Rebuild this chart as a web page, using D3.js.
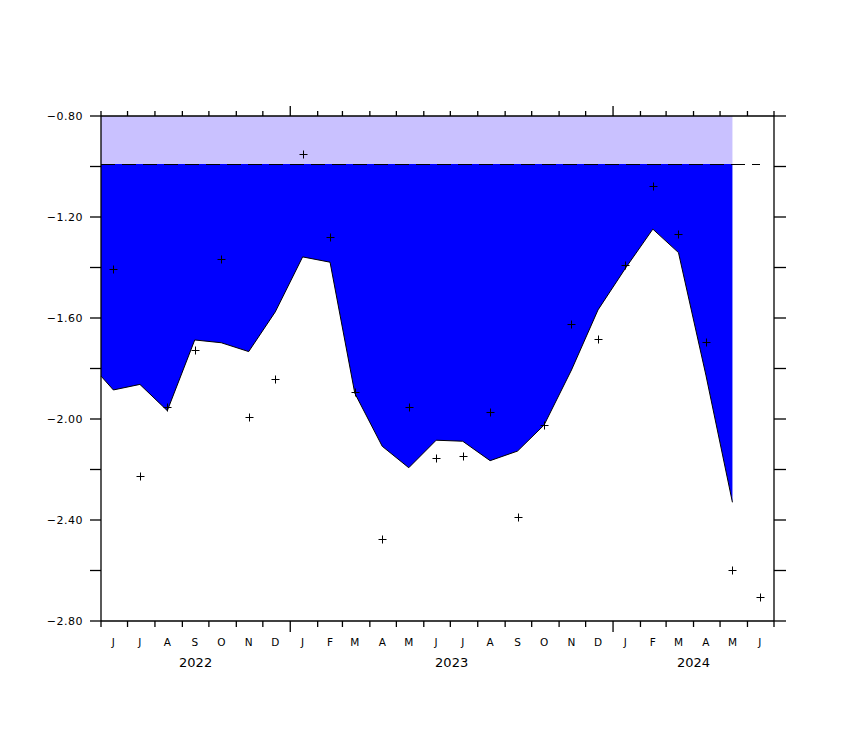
<!DOCTYPE html>
<html>
<head>
<meta charset="utf-8">
<script src="https://cdn.jsdelivr.net/npm/d3@7"></script>
<style>
  html, body { margin: 0; padding: 0; background: #fff; }
  svg { display: block; }
  text { font-family: "DejaVu Sans", sans-serif; fill: #000; }
</style>
</head>
<body>
<svg id="chart" width="859" height="740"></svg>
<script>
// ---- data ----
const lineDates = ["2022-06-01","2022-06-15","2022-07-15","2022-08-15","2022-09-15","2022-10-15","2022-11-15","2022-12-15",
  "2023-01-15","2023-02-15","2023-03-15","2023-04-15","2023-05-15","2023-06-15","2023-07-15","2023-08-15",
  "2023-09-15","2023-10-15","2023-11-15","2023-12-15","2024-01-15","2024-02-15","2024-03-15","2024-04-15","2024-05-15"];
const lineValues = [-1.83, -1.885, -1.863, -1.967, -1.687, -1.698, -1.733, -1.576,
  -1.358, -1.379, -1.898, -2.108, -2.193, -2.084, -2.088, -2.165,
  -2.127, -2.024, -1.806, -1.568, -1.403, -1.248, -1.341, -1.826, -2.330];

const markerDates = ["2022-06-15","2022-07-15","2022-08-15","2022-09-15","2022-10-15","2022-11-15","2022-12-15",
  "2023-01-15","2023-02-15","2023-03-15","2023-04-15","2023-05-15","2023-06-15","2023-07-15","2023-08-15",
  "2023-09-15","2023-10-15","2023-11-15","2023-12-15","2024-01-15","2024-02-15","2024-03-15","2024-04-15",
  "2024-05-15","2024-06-15"];
const markerValues = [-1.407, -2.226, -1.951, -1.727, -1.368, -1.991, -1.843,
  -0.952, -1.278, -1.894, -2.475, -1.954, -2.156, -2.145, -1.971,
  -2.388, -2.024, -1.625, -1.684, -1.391, -1.077, -1.266, -1.694,
  -2.598, -2.705];

const threshold = -0.99;
const yTop = -0.80, yBottom = -2.80;
const yTickValues = [-0.8, -1.0, -1.2, -1.4, -1.6, -1.8, -2.0, -2.2, -2.4, -2.6, -2.8];
const yLabelValues = [-0.8, -1.2, -1.6, -2.0, -2.4, -2.8];
const monthLetters = ["J","F","M","A","M","J","J","A","S","O","N","D"];
const years = [2022, 2023, 2024];
const xStart = "2022-06-01", xEnd = "2024-07-01";

(function () {
const pL = 101, pR = 774, pT = 116, pB = 621;
const svg = d3.select("#chart");
const parse = d3.utcParse("%Y-%m-%d");

const x = d3.scaleUtc().domain([parse(xStart), parse(xEnd)]).range([pL, pR]);
const y = d3.scaleLinear().domain([yBottom, yTop]).range([pB, pT]);

const lineData = lineDates.map((d, i) => ({ date: parse(d), v: lineValues[i] }));
const markerData = markerDates.map((d, i) => ({ date: parse(d), v: markerValues[i] }));

const firstDate = lineData[0].date, lastDate = lineData[lineData.length - 1].date;

svg.append("rect")
  .attr("x", x(firstDate)).attr("y", y(yTop))
  .attr("width", x(lastDate) - x(firstDate))
  .attr("height", y(threshold) - y(yTop))
  .attr("fill", "#c9c1ff");

svg.append("path")
  .datum(lineData)
  .attr("fill", "#0000ff")
  .attr("d", d3.area().x(d => x(d.date)).y0(y(threshold)).y1(d => y(d.v)));

svg.append("path")
  .datum(lineData)
  .attr("fill", "none").attr("stroke", "#000").attr("stroke-width", 1)
  .attr("d", d3.line().x(d => x(d.date)).y(d => y(d.v)));

svg.append("line")
  .attr("x1", x(firstDate)).attr("x2", x(markerData[markerData.length - 1].date))
  .attr("y1", Math.round(y(threshold)) + 0.5).attr("y2", Math.round(y(threshold)) + 0.5)
  .attr("stroke", "#000").attr("stroke-width", 1.5)
  .attr("stroke-dasharray", "14,7")
  .attr("shape-rendering", "crispEdges");

svg.append("g").selectAll("path").data(markerData).join("path")
  .attr("d", d => {
    const cx = Math.round(x(d.date)) + 0.5, cy = Math.round(y(d.v)) + 0.5;
    return `M${cx - 4},${cy}H${cx + 4}M${cx},${cy - 4}V${cy + 4}`;
  })
  .attr("stroke", "#000").attr("stroke-width", 1).attr("fill", "none");

const ax = svg.append("g").attr("stroke", "#000").attr("stroke-width", 1.3).attr("fill", "none");
ax.append("line").attr("x1", pL).attr("x2", pL).attr("y1", pT).attr("y2", pB);
ax.append("line").attr("x1", pR).attr("x2", pR).attr("y1", pT).attr("y2", pB);
ax.append("line").attr("x1", pL).attr("x2", pR).attr("y1", pB).attr("y2", pB);
ax.append("line").attr("x1", pL).attr("x2", pR).attr("y1", pT).attr("y2", pT);

yTickValues.forEach(v => {
  ax.append("line").attr("x1", pL - 11).attr("x2", pL).attr("y1", y(v)).attr("y2", y(v));
  ax.append("line").attr("x1", pR).attr("x2", pR + 12).attr("y1", y(v)).attr("y2", y(v));
});

const monthTicks = d3.utcMonth.range(parse(xStart), d3.utcDay.offset(parse(xEnd), 1));
monthTicks.forEach(t => {
  const isYear = t.getUTCMonth() === 0;
  const xp = x(t);
  ax.append("line").attr("x1", xp).attr("x2", xp).attr("y1", pB).attr("y2", pB + (isYear ? 11 : 6));
  ax.append("line").attr("x1", xp).attr("x2", xp).attr("y1", pT).attr("y2", pT - (isYear ? 10 : 5));
});

svg.append("g").selectAll("text").data(yLabelValues).join("text")
  .attr("x", 83).attr("y", d => y(d))
  .attr("dy", "0.36em")
  .attr("text-anchor", "end")
  .attr("font-size", 11)
  .attr("letter-spacing", 0.5)
  .text(d => d3.format(".2f")(d).replace("-", "\u2212"));

const months = monthTicks.slice(0, -1);
svg.append("g").selectAll("text").data(months).join("text")
  .attr("x", d => x(d3.utcDay.offset(d, 14)))
  .attr("y", 646)
  .attr("text-anchor", "middle")
  .attr("font-size", 10.5)
  .text(d => monthLetters[d.getUTCMonth()]);

svg.append("g").selectAll("text").data(years).join("text")
  .attr("x", yr => {
    const a = Math.max(+parse(yr + "-01-01"), +parse(xStart));
    const b = Math.min(+parse((yr + 1) + "-01-01"), +parse(xEnd));
    return (x(new Date(a)) + x(new Date(b))) / 2;
  })
  .attr("y", 667)
  .attr("text-anchor", "middle")
  .attr("font-size", 13)
  .text(d => d);
})();
</script>
</body>
</html>
